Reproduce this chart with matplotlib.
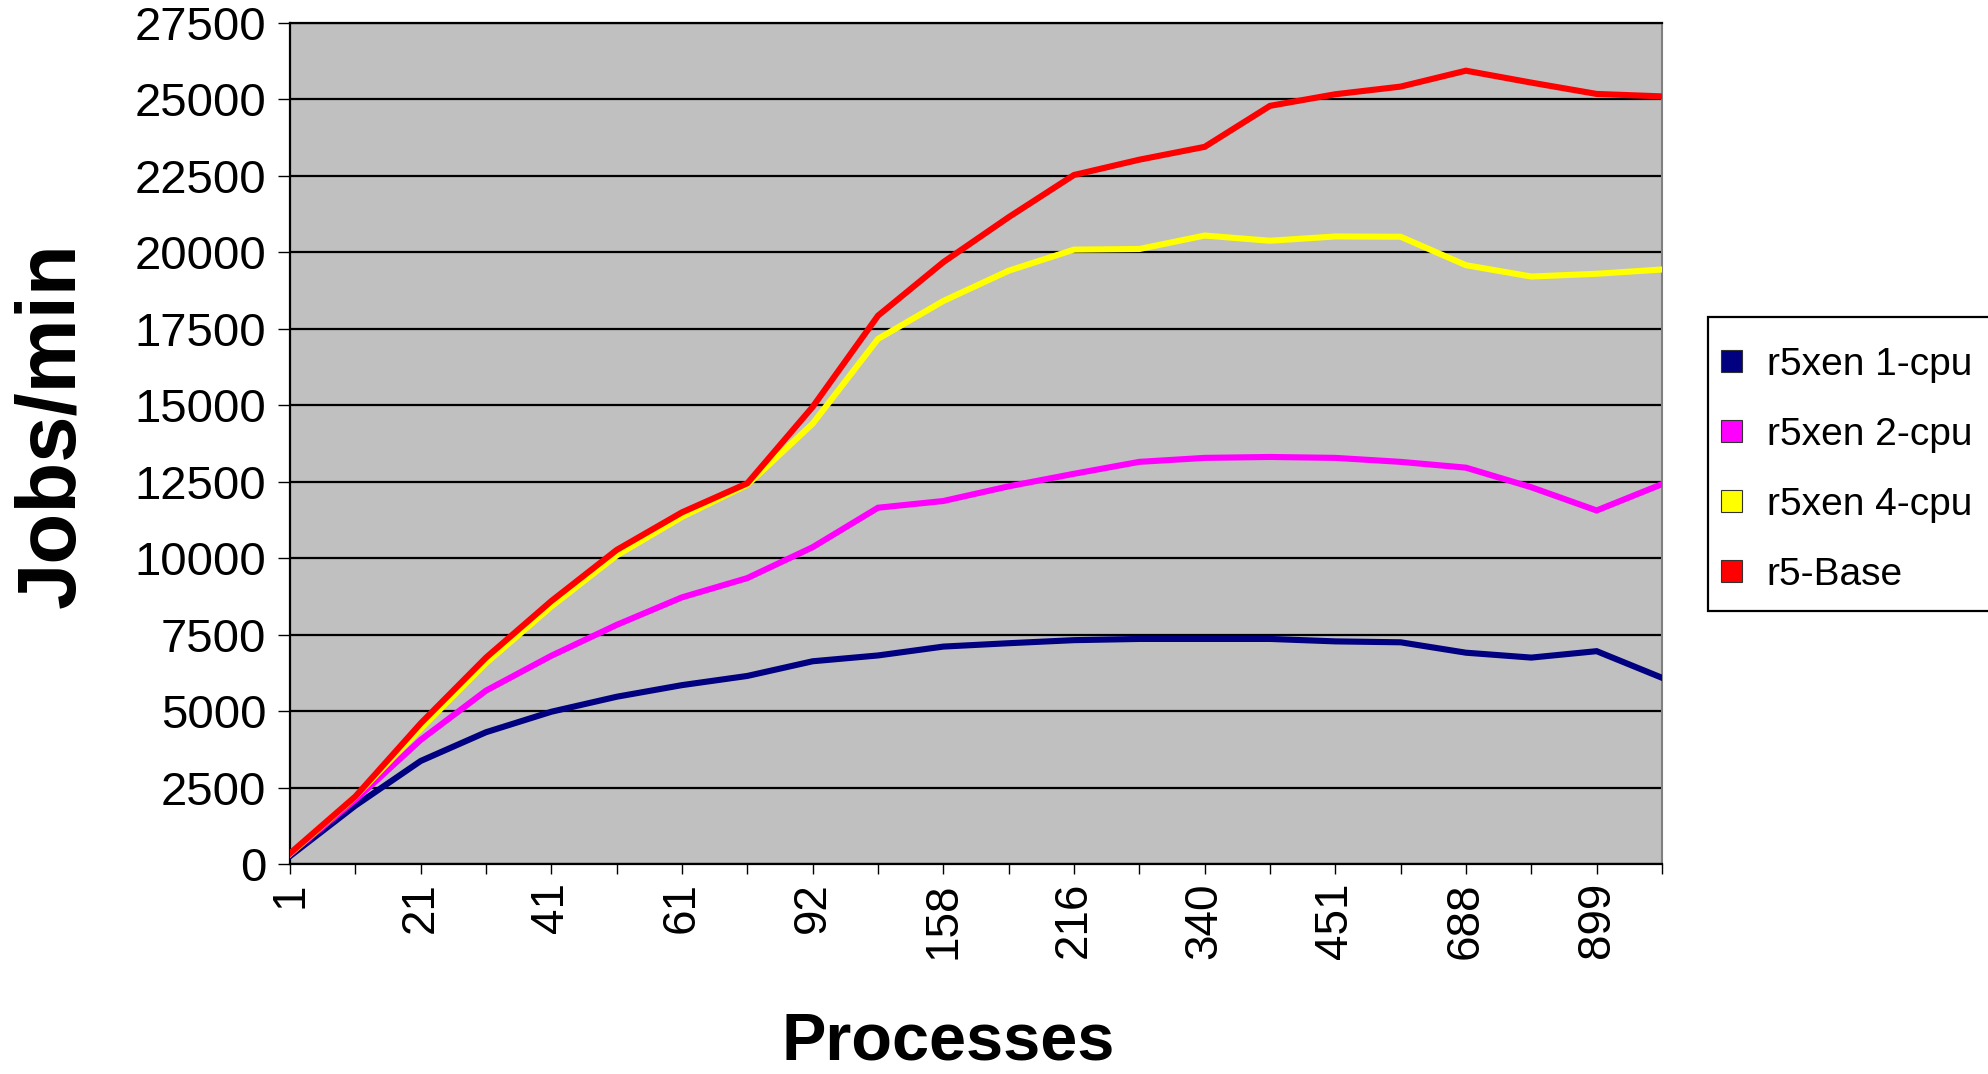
import matplotlib
matplotlib.use("Agg")
import matplotlib.pyplot as plt
from matplotlib.patches import Patch, Rectangle

plt.rcParams["font.family"] = ["Liberation Sans", "DejaVu Sans"]

# x categories (only every other one is labelled in the original)
x_labels = ["1", "", "21", "", "41", "", "61", "", "92", "", "158", "",
            "216", "", "340", "", "451", "", "688", "", "899", ""]

xen_1cpu = [260, 1910, 3370, 4310, 4980, 5470, 5850, 6150, 6630, 6820, 7110,
            7220, 7320, 7360, 7360, 7360, 7280, 7250, 6910, 6750, 6960, 6090]
xen_2cpu = [330, 2100, 4060, 5670, 6810, 7820, 8720, 9350, 10360, 11650, 11870,
            12350, 12760, 13150, 13280, 13310, 13280, 13150, 12960, 12320, 11560, 12420]
xen_4cpu = [330, 2200, 4420, 6570, 8420, 10090, 11350, 12400, 14400, 17170, 18410,
            19400, 20090, 20110, 20550, 20380, 20520, 20510, 19580, 19210, 19300, 19440]
base = [350, 2210, 4600, 6750, 8600, 10270, 11500, 12450, 14950, 17930, 19680,
        21150, 22530, 23030, 23450, 24790, 25170, 25420, 25940, 25550, 25180, 25100]

series = [
    ("r5xen 1-cpu", xen_1cpu, "#000080"),
    ("r5xen 2-cpu", xen_2cpu, "#FF00FF"),
    ("r5xen 4-cpu", xen_4cpu, "#FFFF00"),
    ("r5-Base", base, "#FF0000"),
]
y_ticks = list(range(0, 27501, 2500))

fig = plt.figure(figsize=(19.88, 10.74), dpi=100)
ax = fig.add_axes([0.1459, 0.1955, 0.6901, 0.7831])
ax.set_facecolor("#C0C0C0")

x = list(range(len(x_labels)))
for name, vals, col in series:
    ax.plot(x, vals, color=col, lw=4.4, solid_joinstyle="miter", zorder=3)

ax.set_xlim(0, len(x_labels) - 1)
ax.set_ylim(0, 27500)
ax.set_yticks(y_ticks)
ax.set_yticklabels([str(v) for v in y_ticks], fontsize=34)
ax.set_xticks(x)
ax.set_xticklabels(x_labels, rotation=90, fontsize=33)
ax.tick_params(axis="y", length=9, width=1, pad=8)
ax.tick_params(axis="x", length=7, width=1, pad=6)
ax.yaxis.grid(True, color="black", lw=1.6, zorder=1)
ax.set_axisbelow(True)

for s in ["left", "bottom", "top"]:
    ax.spines[s].set_color("black")
    ax.spines[s].set_linewidth(1.6)
ax.spines["right"].set_color("#808080")
ax.spines["right"].set_linewidth(1.5)

fig.text(0.026, 0.604, "Jobs/min", rotation=90, fontsize=60, fontweight="bold",
         ha="center", va="center")
fig.text(0.477, 0.0005, "Processes", fontsize=48, fontweight="bold",
         ha="center", va="bottom")

# legend box runs off the right edge of the image, like the original
fig.patches.append(Rectangle((0.8592, 0.4311), 0.2, 0.2737, transform=fig.transFigure,
                             facecolor="white", edgecolor="black", lw=1.6))
handles = [Patch(facecolor=c, edgecolor="#333333", lw=0.8, label=n) for n, _, c in series]
fig.legend(handles=handles, loc="upper left", bbox_to_anchor=(0.8657, 0.6769),
           fontsize=28, frameon=False, handlelength=0.55, handleheight=0.5,
           handletextpad=0.62, labelspacing=0.87, borderpad=0, borderaxespad=0)

fig.savefig("out.png", dpi=100)
